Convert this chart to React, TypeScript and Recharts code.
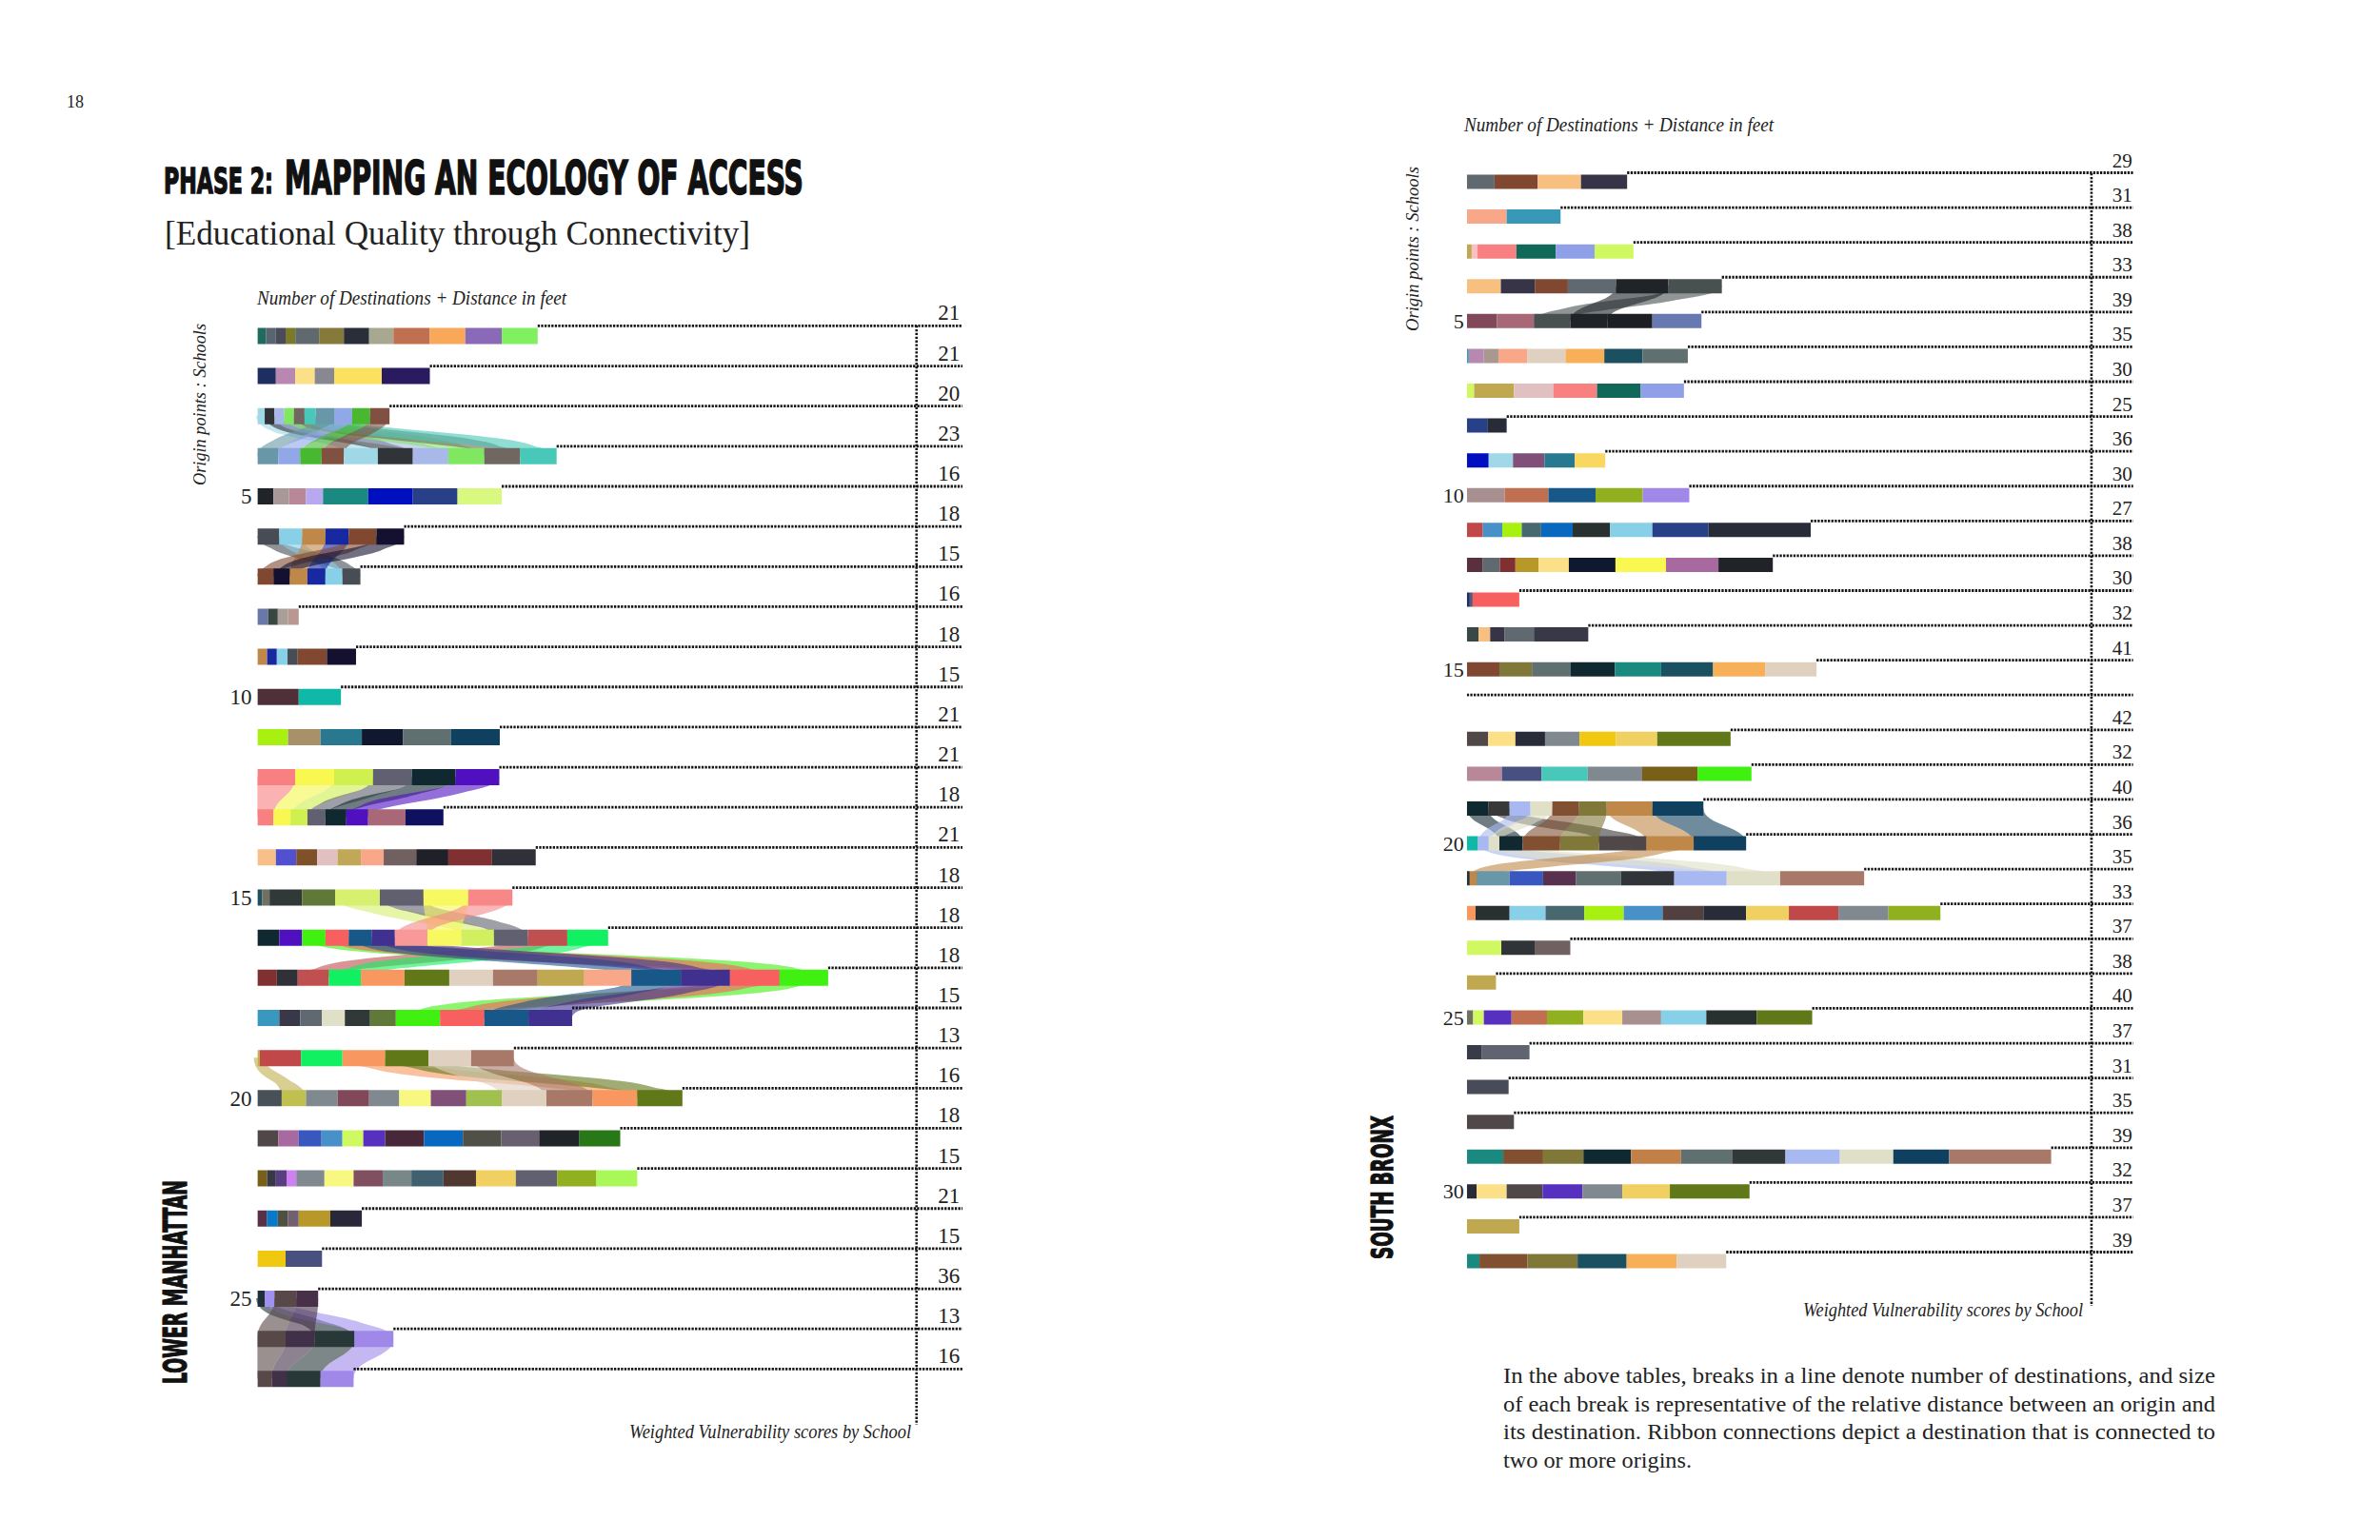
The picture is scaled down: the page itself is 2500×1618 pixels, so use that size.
import React, { useLayoutEffect, useRef, useState } from 'react'
import * as R from 'recharts'
import { BarChart, Bar, XAxis, YAxis, Cell, ReferenceLine } from 'recharts'

// Lower Manhattan: distance of each destination (relative units), one list per origin school
const lmDist = [
  [18, 20, 20, 20, 49, 51, 52, 50, 75, 73, 75, 74],
  [38, 40, 40, 40, 98, 99],
  [15, 20, 20, 20, 22, 23, 38, 37, 37, 40],
  [43, 45, 44, 46, 70, 72, 73, 74, 74, 75],
  [33, 32, 35, 35, 93, 92, 92, 91],
  [45, 47, 48, 48, 57, 57],
  [33, 34, 36, 37, 35, 37],
  [22, 20, 21, 22],
  [20, 20, 22, 21, 60, 60],
  [85, 87],
  [63, 67, 85, 85, 98, 101],
  [78, 80, 80, 80, 90, 90],
  [33, 35, 35, 37, 43, 45, 77, 78],
  [38, 42, 43, 42, 48, 47, 67, 66, 90, 90],
  [10, 15, 67, 68, 92, 90, 92, 91],
  [45, 47, 48, 48, 47, 48, 67, 70, 67, 70, 81, 84],
  [40, 43, 64, 66, 90, 92, 90, 92, 96, 97, 102, 101, 102, 100],
  [45, 43, 45, 47, 52, 53, 91, 91, 91, 90],
  [5, 85, 85, 88, 89, 88, 88],
  [50, 50, 65, 65, 62, 65, 73, 73, 92, 95, 92, 93],
  [43, 42, 47, 43, 43, 45, 80, 80, 79, 78, 83, 84],
  [20, 18, 22, 20, 58, 60, 60, 59, 66, 67, 82, 85, 81, 84],
  [20, 22, 21, 22, 65, 65],
  [58, 75],
  [15, 20, 45, 45],
  [58, 60, 82, 80],
  [30, 30, 70, 68],
]

const lmColors = [
  ['#1f6b5e', '#5a6470', '#4a4a5a', '#7a7a2a', '#606a6e', '#857a3a', '#2a2e38', '#a8a890', '#c07050', '#f8a858', '#8a6ab8', '#80f060'],
  ['#1e2e60', '#b888b0', '#fce088', '#888890', '#fce060', '#2a1a60'],
  ['#a0d8e8', '#303438', '#a8b8e8', '#80e860', '#706860', '#48c8b8', '#6898a8', '#90a8e8', '#48b830', '#805040'],
  ['#6898a8', '#90a8e8', '#48b830', '#805040', '#a0d8e8', '#303438', '#a8b8e8', '#80e860', '#706860', '#48c8b8'],
  ['#202428', '#a89898', '#b88898', '#b8a8f0', '#1a8a80', '#0010c0', '#284088', '#d8f880'],
  ['#484c54', '#88d0e8', '#c08848', '#1828a0', '#804830', '#141030'],
  ['#804830', '#141030', '#c08848', '#1828a0', '#88d0e8', '#484c54'],
  ['#6878a8', '#384840', '#a8a098', '#b89890'],
  ['#c08848', '#1828a0', '#88d0e8', '#484c54', '#804830', '#141030'],
  ['#503038', '#10b8a8'],
  ['#a8f010', '#a89068', '#287890', '#101830', '#607070', '#104060'],
  ['#f88080', '#f8f850', '#d0f050', '#606070', '#102830', '#5010c0'],
  ['#f88080', '#f8f850', '#d0f050', '#606070', '#102830', '#5010c0', '#a86878', '#101060'],
  ['#f8c088', '#5050d0', '#805028', '#e0c0c0', '#c0a858', '#f8a888', '#706060', '#202028', '#803030', '#303038'],
  ['#205060', '#707060', '#303838', '#607838', '#d8f070', '#606070', '#f8f860', '#f88888'],
  ['#102830', '#5010c0', '#40f010', '#f86060', '#185888', '#403090', '#f89898', '#f8f860', '#d0f060', '#606070', '#c05050', '#10f060'],
  ['#803030', '#303038', '#c05050', '#10f060', '#f89860', '#607818', '#e0d0c0', '#a87868', '#c0a850', '#f8a888', '#185888', '#403090', '#f86060', '#40f010'],
  ['#3898c0', '#383848', '#606870', '#e0e0c8', '#303838', '#607838', '#40f010', '#f86060', '#185888', '#403090'],
  ['#c0b050', '#c04848', '#10f060', '#f89860', '#607818', '#e0d0c0', '#a87868'],
  ['#485058', '#c0c050', '#808890', '#804858', '#808890', '#f8f880', '#805078', '#a0c050', '#e0d0c0', '#a87868', '#f89860', '#607818'],
  ['#504848', '#a868a0', '#3858c0', '#4890c8', '#d0f860', '#5830c0', '#482838', '#0868c0', '#505048', '#686070', '#202428', '#287818'],
  ['#786018', '#383848', '#584080', '#d080f0', '#808890', '#f8f880', '#805060', '#788888', '#406070', '#503830', '#f0d060', '#606070', '#90b020', '#a8f858'],
  ['#583048', '#0878c8', '#505040', '#706070', '#b89828', '#282838'],
  ['#f0c810', '#485080'],
  ['#203038', '#a090f0', '#584848', '#483048'],
  ['#584848', '#403048', '#283838', '#a088e8'],
  ['#584848', '#403048', '#283838', '#a088e8'],
]

const lmScores = [21, 21, 20, 23, 16, 18, 15, 16, 18, 15, 21, 21, 18, 21, 18, 18, 18, 15, 13, 16, 18, 15, 21, 15, 36, 13, 16]

// shared destinations: [origin row, segment, other row, segment]
const lmLinks = [
  [3, 0, 4, 4], [3, 1, 4, 5], [3, 2, 4, 6], [3, 3, 4, 7], [3, 4, 4, 8], [3, 5, 4, 9],
  [3, 6, 4, 0], [3, 7, 4, 1], [3, 8, 4, 2], [3, 9, 4, 3],
  [6, 0, 7, 5], [6, 1, 7, 4], [6, 2, 7, 2], [6, 3, 7, 3], [6, 4, 7, 0], [6, 5, 7, 1],
  [12, 0, 13, 0], [12, 1, 13, 1], [12, 2, 13, 2], [12, 3, 13, 3], [12, 4, 13, 4], [12, 5, 13, 5],
  [15, 4, 16, 8], [15, 5, 16, 9], [15, 6, 16, 7], [15, 7, 16, 6],
  [16, 10, 17, 2], [16, 11, 17, 3], [16, 2, 17, 13], [16, 3, 17, 12], [16, 4, 17, 10], [16, 5, 17, 11],
  [17, 13, 18, 6], [17, 12, 18, 7], [17, 10, 18, 8], [17, 11, 18, 9],
  [19, 0, 20, 1], [19, 3, 20, 10], [19, 4, 20, 11], [19, 5, 20, 8], [19, 6, 20, 9],
  [25, 0, 26, 2], [25, 1, 26, 3], [25, 2, 26, 0], [25, 3, 26, 1],
  [26, 0, 27, 0], [26, 1, 27, 1], [26, 2, 27, 2], [26, 3, 27, 3],
]

// South Bronx
const sbDist = [
  [57, 89, 89, 95],
  [82, 111],
  [10, 12, 80, 81, 80, 80],
  [70, 70, 68, 99, 108, 110],
  [62, 76, 75, 77, 92, 101],
  [4, 31, 30, 60, 78, 80, 79, 93],
  [15, 82, 81, 90, 90, 89],
  [42, 40],
  [45, 50, 65, 62, 63],
  [78, 90, 97, 97, 96],
  [33, 40, 40, 40, 65, 77, 87, 115, 211],
  [33, 35, 32, 48, 62, 96, 104, 108, 112],
  [6, 6, 96],
  [24, 24, 30, 60, 112],
  [67, 67, 80, 91, 95, 107, 107, 106],
  [],
  [44, 56, 61, 71, 75, 85, 151],
  [72, 82, 95, 112, 114, 111],
  [44, 44, 43, 45, 55, 57, 94, 105],
  [23, 22, 22, 48, 77, 80, 98, 97, 108],
  [6, 14, 68, 69, 68, 92, 110, 108, 110, 173],
  [18, 70, 74, 80, 81, 80, 84, 88, 88, 102, 103, 107],
  [71, 70, 72],
  [60],
  [13, 22, 57, 73, 75, 80, 80, 93, 104, 114],
  [30, 99],
  [86],
  [97],
  [75, 82, 83, 98, 103, 105, 110, 112, 110, 115, 210],
  [20, 62, 74, 82, 82, 98, 164],
  [108],
  [26, 99, 103, 101, 103, 102],
]

const sbColors = [
  ['#606870', '#804830', '#f8c080', '#383448'],
  ['#f8a888', '#3898b8'],
  ['#c0a850', '#f8c0c0', '#f88080', '#106858', '#90a0e8', '#d0f860'],
  ['#f8c080', '#383448', '#804830', '#606870', '#202428', '#485050'],
  ['#804858', '#a86878', '#485050', '#202428', '#1c2024', '#6878b0'],
  ['#3898b8', '#b888b0', '#a89890', '#f8a888', '#e0d0c0', '#f8b058', '#1a5060', '#607070'],
  ['#d0f860', '#c0a850', '#e0c0c0', '#f88080', '#106858', '#90a0e8'],
  ['#284088', '#282c38'],
  ['#0010c0', '#a0d8e8', '#805078', '#287890', '#f8d860'],
  ['#a89090', '#c07050', '#185888', '#90b020', '#a088e8'],
  ['#c04848', '#4890c8', '#a8f010', '#486870', '#0868c0', '#283030', '#88d0e8', '#284088', '#282c38'],
  ['#583040', '#606870', '#803030', '#b89828', '#fce088', '#101830', '#f8f850', '#a868a0', '#202428'],
  ['#1e2e60', '#585878', '#f86060'],
  ['#384848', '#f8c080', '#383448', '#606870', '#383848'],
  ['#804830', '#807838', '#607070', '#102830', '#1a8a80', '#1a5060', '#f8b058', '#e0d0c0'],
  [],
  ['#504848', '#fce088', '#282c38', '#808890', '#f0c810', '#f0d060', '#607818'],
  ['#b88898', '#485080', '#48c8b8', '#808890', '#786018', '#40f010'],
  ['#102830', '#383838', '#a8b8f0', '#e0e0c8', '#805030', '#807838', '#c08848', '#104060'],
  ['#10b8a8', '#a8b8f0', '#e0e0c8', '#102830', '#805030', '#807838', '#504848', '#c08848', '#104060'],
  ['#283038', '#c08848', '#6898a8', '#3858c0', '#583050', '#607070', '#303438', '#a8b8f0', '#e0e0c8', '#a87868'],
  ['#f89860', '#283030', '#88d0e8', '#486870', '#a8f010', '#4890c8', '#504040', '#282c38', '#f0d060', '#c04848', '#808890', '#90b020'],
  ['#d0f860', '#303438', '#706060'],
  ['#c0a850'],
  ['#707060', '#d0f860', '#5830c0', '#c07050', '#90b020', '#fce088', '#a89090', '#88d0e8', '#283030', '#607818'],
  ['#383c48', '#606470'],
  ['#484c58'],
  ['#504848'],
  ['#1a8a80', '#805030', '#807838', '#102830', '#c08048', '#607070', '#303838', '#a8b8f0', '#e0e0c8', '#104060', '#a87868'],
  ['#282c38', '#fce088', '#504848', '#5830c0', '#808890', '#f0d060', '#607818'],
  ['#c0a850'],
  ['#1a8a80', '#805030', '#807838', '#1a5060', '#f8b058', '#e0d0c0'],
]

const sbScores = [29, 31, 38, 33, 39, 35, 30, 25, 36, 30, 27, 38, 30, 32, 41, null, 42, 32, 40, 36, 35, 33, 37, 38, 40, 37, 31, 35, 39, 32, 37, 39]

const sbLinks = [
  [4, 5, 5, 2], [4, 4, 5, 3],
  [19, 0, 20, 3], [19, 1, 20, 6], [19, 2, 20, 1], [19, 3, 20, 2], [19, 4, 20, 4], [19, 5, 20, 5], [19, 6, 20, 7], [19, 7, 20, 8],
  [20, 1, 21, 7], [20, 2, 21, 8], [20, 7, 21, 1],
]

const paragraph = [
  'In the above tables, breaks in a line denote number of destinations, and size',
  'of each break is representative of the relative distance between an origin and',
  'its destination. Ribbon connections depict a destination that is connected to',
  'two or more origins.',
]

const SERIF = "'Liberation Serif', 'DejaVu Serif', serif"
const HEAVY = "'DejaVu Sans Condensed', 'DejaVu Sans', sans-serif"
const INK = '#141414'

const usePlotAreaSafe: () => any = (R as any).usePlotArea ?? (() => null)

function buildRows(dist: number[][], scores: (number | null)[], total: number) {
  return dist.map((segs, i) => {
    const row: any = { row: i + 1, score: scores[i] }
    segs.forEach((v, k) => { row['s' + k] = v })
    row.tail = total - segs.reduce((a, b) => a + b, 0)
    return row
  })
}

// squeezes a text horizontally to a target width (condensed display type)
function FitText({ x, y, width, children, ...rest }: any) {
  const ref = useRef<SVGTextElement>(null)
  const [sx, setSx] = useState(1)
  useLayoutEffect(() => {
    const w = ref.current?.getComputedTextLength()
    if (w) setSx(width / w)
  }, [width])
  return (
    <text ref={ref} transform={`translate(${x},${y}) scale(${sx},1)`} {...rest}>
      {children}
    </text>
  )
}

function Tail(p: any) {
  const { x, y, width, payload, size, inset } = p
  return (
    <g>
      <line x1={x} x2={x + width} y1={y - 2} y2={y - 2} stroke={INK} strokeWidth={2.8} strokeDasharray="2.3 1.3" />
      {payload.score != null && (
        <text x={x + width - inset} y={y - 8} textAnchor="end" fontFamily={SERIF} fontSize={size} fill="#222">
          {payload.score}
        </text>
      )}
    </g>
  )
}

function Ribbons({ dist, colors, links, total, fallback, thick }: any) {
  const area = usePlotAreaSafe() || fallback
  const unit = area.width / total
  const band = area.height / dist.length
  const span = (r: number, s: number) => {
    const segs = dist[r - 1]
    let a = 0
    for (let i = 0; i < s; i++) a += segs[i]
    return [area.x + a * unit, area.x + (a + segs[s]) * unit]
  }
  const mid = (r: number) => area.y + (r - 0.5) * band
  return (
    <g>
      {links.map(([ra, sa, rb, sb]: number[], i: number) => {
        const [a0, a1] = span(ra, sa)
        const [b0, b1] = span(rb, sb)
        const ya = mid(ra)
        const yb = mid(rb)
        const ym = (ya + yb) / 2
        const ma = (a0 + a1) / 2
        const mb = (b0 + b1) / 2
        const body = `M${a0},${ya} C${a0},${ym} ${b0},${ym} ${b0},${yb} L${b1},${yb} C${b1},${ym} ${a1},${ym} ${a1},${ya} Z`
        const spine = `M${ma},${ya} C${ma},${ym} ${mb},${ym} ${mb},${yb}`
        const c = colors[ra - 1][sa]
        return (
          <g key={i} opacity={0.6}>
            <path d={body} fill={c} />
            <path d={spine} fill="none" stroke={c} strokeWidth={thick} />
          </g>
        )
      })}
    </g>
  )
}

function Panel(props: any) {
  const { dist, colors, scores, links, total, guide, width, height, margin, barSize, tickGap, tickSize, labelSize, inset, guideTop, guideBottom } = props
  const data = buildRows(dist, scores, total)
  const nSeg = Math.max(...dist.map((d: number[]) => d.length))
  const fallback = {
    x: margin.left + 60,
    y: margin.top,
    width: width - margin.left - 60 - margin.right,
    height: height - margin.top - margin.bottom,
  }
  return (
    <BarChart width={width} height={height} data={data} layout="vertical" margin={margin} barSize={barSize}>
      <XAxis type="number" domain={[0, total]} hide allowDataOverflow />
      <YAxis
        type="category"
        dataKey="row"
        width={60}
        axisLine={false}
        tickLine={false}
        tickSize={0}
        tickMargin={tickGap}
        interval={0}
        tick={{ fontSize: tickSize, fill: '#222', fontFamily: SERIF }}
        tickFormatter={(v: number) => (v % 5 === 0 ? String(v) : '')}
      />
      {Array.from({ length: nSeg }, (_, k) => (
        <Bar key={k} dataKey={'s' + k} stackId="d" isAnimationActive={false}>
          {data.map((_: any, r: number) => (
            <Cell key={r} fill={colors[r][k] ?? 'none'} />
          ))}
        </Bar>
      ))}
      <Bar dataKey="tail" stackId="d" isAnimationActive={false} shape={(p: any) => <Tail {...p} size={labelSize} inset={inset} />} />
      <ReferenceLine
        x={guide}
        shape={(p: any) => (
          <line
            x1={p.x1}
            x2={p.x2}
            y1={Math.min(p.y1, p.y2) + guideTop}
            y2={Math.max(p.y1, p.y2) + guideBottom}
            stroke={INK}
            strokeWidth={2.6}
            strokeDasharray="2.3 1.6"
          />
        )}
      />
      <Ribbons dist={dist} colors={colors} links={links} total={total} fallback={fallback} thick={barSize * 0.6} />
    </BarChart>
  )
}

export default function App() {
  return (
    <div style={{ position: 'absolute', left: 0, top: 0, width: 2500, height: 1618, background: '#fff', overflow: 'hidden' }}>
      <svg width={2500} height={1618} style={{ position: 'absolute', left: 0, top: 0 }}>
        <text x={70} y={113} fontFamily={SERIF} fontSize={18} fill="#222">18</text>
        <FitText x={172} y={203} width={115} fontFamily={HEAVY} fontWeight={700} fontSize={37} fill="#111" stroke="#111" strokeWidth={1.4}>PHASE 2:</FitText>
        <FitText x={299} y={204} width={545} fontFamily={HEAVY} fontWeight={700} fontSize={49} fill="#111" stroke="#111" strokeWidth={1.6}>MAPPING AN ECOLOGY OF ACCESS</FitText>
        <text x={173} y={257} fontFamily={SERIF} fontSize={36} textLength={615} lengthAdjust="spacingAndGlyphs" fill="#222">[Educational Quality through Connectivity]</text>
        <text x={270} y={320} fontFamily={SERIF} fontStyle="italic" fontSize={20} textLength={325} lengthAdjust="spacingAndGlyphs" fill="#222">Number of Destinations + Distance in feet</text>
        <text x={1538} y={138} fontFamily={SERIF} fontStyle="italic" fontSize={20} textLength={325} lengthAdjust="spacingAndGlyphs" fill="#222">Number of Destinations + Distance in feet</text>
        <text transform="translate(216,510) rotate(-90)" fontFamily={SERIF} fontStyle="italic" fontSize={19} textLength={170} lengthAdjust="spacingAndGlyphs" fill="#222">Origin points : Schools</text>
        <text transform="translate(1490,348) rotate(-90)" fontFamily={SERIF} fontStyle="italic" fontSize={19} textLength={173} lengthAdjust="spacingAndGlyphs" fill="#222">Origin points : Schools</text>
        <text transform="translate(196,1454) rotate(-90)" fontFamily={HEAVY} fontWeight={700} fontSize={34} textLength={214} lengthAdjust="spacingAndGlyphs" fill="#111" stroke="#111" strokeWidth={1.2}>LOWER MANHATTAN</text>
        <text transform="translate(1463,1323) rotate(-90)" fontFamily={HEAVY} fontWeight={700} fontSize={32} textLength={151} lengthAdjust="spacingAndGlyphs" fill="#111" stroke="#111" strokeWidth={1.2}>SOUTH BRONX</text>
        <text x={957} y={1511} textAnchor="end" fontFamily={SERIF} fontStyle="italic" fontSize={20} textLength={296} lengthAdjust="spacingAndGlyphs" fill="#222">Weighted Vulnerability scores by School</text>
        <text x={2188} y={1383} textAnchor="end" fontFamily={SERIF} fontStyle="italic" fontSize={20} textLength={294} lengthAdjust="spacingAndGlyphs" fill="#222">Weighted Vulnerability scores by School</text>
        {paragraph.map((line, i) => (
          <text key={i} x={1579} y={1453 + i * 29.6} fontFamily={SERIF} fontSize={23} textLength={i < 3 ? 748 : 198} lengthAdjust="spacingAndGlyphs" fill="#222">
            {line}
          </text>
        ))}
      </svg>
      <div style={{ position: 'absolute', left: 0, top: 0 }}>
        <Panel
          dist={lmDist}
          colors={lmColors}
          scores={lmScores}
          links={lmLinks}
          total={1452}
          guide={1357}
          width={1250}
          height={1618}
          margin={{ top: 331.4, right: 238.8, bottom: 148.5, left: 210.4 }}
          barSize={17}
          tickGap={6}
          tickSize={23}
          labelSize={23}
          inset={3}
          guideTop={10.6}
          guideBottom={27.5}
        />
      </div>
      <div style={{ position: 'absolute', left: 1250, top: 0 }}>
        <Panel
          dist={sbDist}
          colors={sbColors}
          scores={sbScores}
          links={sbLinks}
          total={1372}
          guide={1286}
          width={1250}
          height={1618}
          margin={{ top: 172.5, right: 259.2, bottom: 274.9, left: 230.8 }}
          barSize={15}
          tickGap={3}
          tickSize={22}
          labelSize={21}
          inset={1}
          guideTop={9.5}
          guideBottom={29}
        />
      </div>
    </div>
  )
}
